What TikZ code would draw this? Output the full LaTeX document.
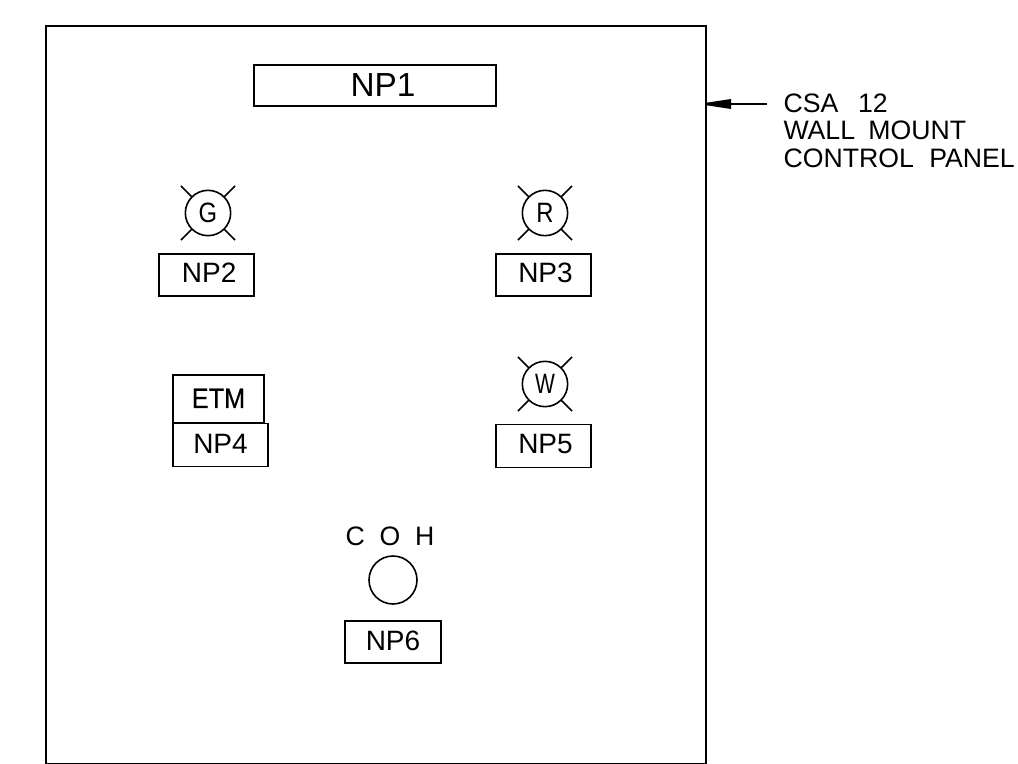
\documentclass[tikz,border=0pt]{standalone}
\usepackage{graphicx}
\usepackage{fontspec}
\setmainfont{Liberation Sans}
\newfontfamily\etmfont[FakeBold=0.4]{Liberation Sans}
\tikzset{
  every node/.append style={outer sep=0pt},
  px/.style={x=0.75pt,y=-0.75pt},
  panel/.style={draw=black,line width=1.3pt},
  plate/.style={draw=black,line width=1.3pt,inner sep=0pt,anchor=north west,font=\fontsize{21}{21}\selectfont,align=center},
  lamp/.style={circle,draw=black,line width=1.2pt,inner sep=0pt,minimum size=34pt,font=\fontsize{21}{21}\selectfont},
  arm/.style={draw=black,line width=1.2pt},
  note/.style={anchor=base west,inner sep=0pt,font=\fontsize{20}{20}\selectfont}
}
\begin{document}
\begin{tikzpicture}[px]
\useasboundingbox (0,0) rectangle (1018,764);
\node[panel,rectangle,inner sep=0pt,anchor=north west,minimum width=495pt,minimum height=553.1pt] (frame) at (46,26) {};
\node[plate,minimum width=181.5pt,minimum height=30.75pt,font=\fontsize{25}{25}\selectfont] (np1) at (254,65) {\hspace*{12pt}\raisebox{1pt}{NP1}};
\node[plate,minimum width=71.25pt,minimum height=31.5pt] (np2) at (159,254) {\hspace*{4pt}\raisebox{3pt}{NP2}};
\node[plate,minimum width=71.25pt,minimum height=31.5pt] (np3) at (496,254) {\hspace*{3pt}\raisebox{3pt}{NP3}};
\node[plate,minimum width=68.25pt,minimum height=36pt] (etm) at (173,375) {\etmfont\raisebox{1pt}{\scalebox{0.9}[1]{ETM}}};
\node[plate,minimum width=71.25pt,minimum height=32.25pt] (np4) at (173,423.5) {\raisebox{1.5pt}{NP4}};
\node[plate,minimum width=71.25pt,minimum height=32.25pt] (np5) at (496,424.5) {\hspace*{3pt}\raisebox{3pt}{NP5}};
\node[plate,minimum width=72pt,minimum height=31.5pt] (np6) at (345,621) {\raisebox{2.25pt}{NP6}};
\node[lamp] (g) at (208,213) {\scalebox{0.85}[1]{G}};
\node[lamp] (r) at (545,213) {\scalebox{0.85}[1]{R}};
\node[lamp] (w) at (545,384) {\scalebox{0.75}[1]{W}};
\foreach \n in {g,r,w}{
  \draw[arm] (\n.45) -- ++(11,-11);
  \draw[arm] (\n.135) -- ++(-11,-11);
  \draw[arm] (\n.225) -- ++(-11,11);
  \draw[arm] (\n.315) -- ++(11,11);
}
\node[circle,draw=black,line width=1.2pt,inner sep=0pt,minimum size=36pt] (coh) at (393,580) {};
\node[anchor=base,inner sep=0pt,font=\fontsize{20}{20}\selectfont] (cohlabel) at (390,545) {C\hspace{0.55em}O\hspace{0.55em}H};
\coordinate (arrowend) at (767,104);
\fill[black] ([yshift=0.9pt]frame.east |- arrowend) -- (731,99) -- (731,109) -- ([yshift=-0.9pt]frame.east |- arrowend) -- cycle;
\draw[line width=1.1pt] (arrowend) -- (frame.east |- arrowend);
\node[note] (n1) at (783.5,112) {CSA\hspace{0.74em}12};
\node[note] (n2) at (783.5,139) {WALL\hspace{0.5em}MOUNT};
\node[note] (n3) at (783.5,167) {CONTROL\hspace{0.58em}PANEL};
\end{tikzpicture}
\end{document}
